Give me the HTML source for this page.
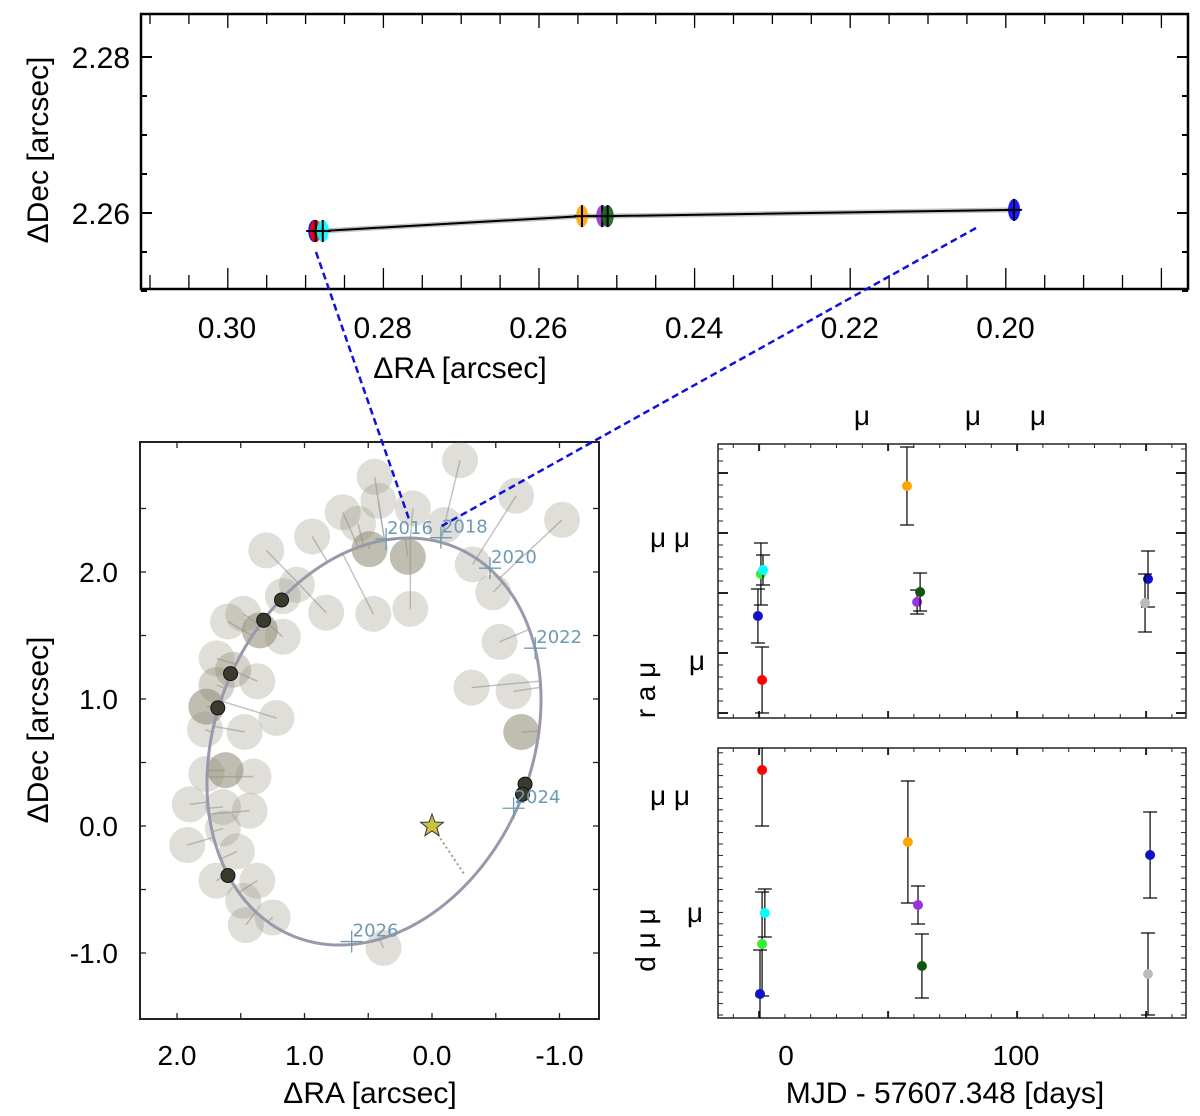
<!DOCTYPE html>
<html><head><meta charset="utf-8"><style>
html,body{margin:0;padding:0;background:#fff}
svg{display:block}
text{font-family:"Liberation Sans Narrow","Liberation Sans",sans-serif}
</style></head><body>
<svg id="fig" width="1200" height="1116" viewBox="0 0 1200 1116" xmlns="http://www.w3.org/2000/svg">
<g id="top"></g>
<g id="orb"></g>
<g id="rr"></g>
<g id="dr"></g>
<g id="ann"></g>
</svg>
<script>
// ---- top zoom panel data ----
const topColors=["blue","red","cyan","orange","#9933dd","#116611","blue"];
const topRA=[0.2888,0.2886,0.2877,0.2544,0.2518,0.2511,0.1989];
const topDec=[2.2577,2.2577,2.2577,2.2596,2.2596,2.2596,2.2604];
const topXTicks=["0.30","0.28","0.26","0.24","0.22","0.20"];
const topXVals=[0.30,0.28,0.26,0.24,0.22,0.20];
const topYTicks=["2.28","2.26"];
const topYVals=[2.28,2.26];
// ---- orbit panel data ----
const blobRA=[-0.22,0.45,-0.66,-1.02,0.42,0.70,0.58,0.15,-0.10,0.94,1.30,0.49,0.19,-0.32,1.06,0.83,0.46,0.17,-0.48,1.17,1.48,1.60,1.35,1.17,-0.53,1.69,1.56,1.37,-0.31,-0.64,1.69,1.77,1.22,1.47,1.78,-0.70,1.62,1.77,1.40,1.90,1.64,1.43,1.92,1.64,1.53,1.69,1.37,1.48,1.46,1.25,0.38];
const blobDec=[2.88,2.75,2.60,2.41,2.56,2.47,2.38,2.50,2.37,2.28,2.17,2.18,2.12,2.06,1.90,1.68,1.67,1.71,1.84,1.81,1.67,1.61,1.54,1.49,1.45,1.32,1.23,1.14,1.09,1.06,1.11,0.94,0.85,0.74,0.76,0.74,0.44,0.41,0.39,0.17,0.15,0.12,-0.15,-0.02,-0.20,-0.43,-0.43,-0.59,-0.78,-0.72,-0.96];
const blobAlpha=[.3,.3,.3,.3,.3,.3,.3,.3,.3,.3,.3,.6,.6,.3,.3,.3,.3,.3,.3,.3,.3,.3,.6,.3,.3,.3,.4,.3,.3,.3,.4,.6,.3,.3,.3,.6,.6,.3,.3,.3,.3,.3,.3,.3,.3,.3,.3,.3,.3,.3,.3];
const obsRA=[1.18,1.32,1.58,1.68,1.60,-0.73,-0.71];
const obsDec=[1.78,1.62,1.20,0.93,-0.39,0.33,0.25];
const yearLabels=["2016","2018","2020","2022","2024","2026"];
const yearRA=[0.36,-0.07,-0.455,-0.81,-0.64,0.63];
const yearDec=[2.26,2.27,2.03,1.40,0.14,-0.91];
const orbXTicks=["2.0","1.0","0.0","-1.0"];
const orbXVals=[2,1,0,-1];
const orbYTicks=["2.0","1.0","0.0","-1.0"];
const orbYVals=[2,1,0,-1];
// ---- residual panels data ----
const resColors=["red","#33ee33","cyan","#1111cc","orange","#9933dd","#115511","#1111cc","#bbbbbb"];
const raDays=[-10.4,-10.9,-10,-12.2,52.6,57,58.3,157.4,156.1];
const raVal=[3.8,14.4,14.8,10.2,23.2,11.6,12.6,13.9,11.5];
const raErr=[3.3,3.1,1.5,2.7,3.9,1.2,1.9,2.8,2.9];
const decDays=[-10.4,-10.4,-9.2,-11.3,53,57.4,59.1,158.3,157.4];
const decVal=[24.8,7.4,10.5,2.4,17.6,11.3,5.2,16.3,4.4];
const decErr=[5.6,5.2,2.4,4.4,6.1,1.9,3.2,4.3,4.1];
const dayTicks=["0","100"];
const dayVals=[0,100];

const NS="http://www.w3.org/2000/svg";
function mk(parent,tag,attrs,name){const e=document.createElementNS(NS,tag);for(const k in attrs)e.setAttribute(k,attrs[k]);


parent.appendChild(e);return e;}
function txt(parent,x,y,s,size,name,anchor,extra){const t=mk(parent,'text',Object.assign({x:x,y:y,'font-size':size,'text-anchor':anchor||'middle'},extra||{}),name);t.textContent=s;return t;}

// ===== TOP PANEL =====
const T=document.getElementById('top');
const tx=v=>227+(0.30-v)*7785, ty=v=>57+(2.28-v)*7800;
mk(T,'rect',{x:141,y:14,width:1047,height:275,fill:'none',stroke:'#000','stroke-width':2.5},'zoom-frame');
for(let i=0;i<27;i++){const x=150+i*38.9;const maj=Math.abs(((x-228)/155.7)-Math.round((x-228)/155.7))<0.05;
mk(T,'line',{x1:x,y1:14,x2:x,y2:maj?28:24,stroke:'#000','stroke-width':1.3},'top-tick');
mk(T,'line',{x1:x,y1:289,x2:x,y2:maj?268:275,stroke:'#000','stroke-width':1.3},'bottom-tick');}
for(let i=0;i<7;i++){const y=57+i*39;const maj=(i%4===0);
mk(T,'line',{x1:141,y1:y,x2:maj?152:147,y2:y,stroke:'#000','stroke-width':2},'left-tick');
mk(T,'line',{x1:1188,y1:y,x2:maj?1177:1182,y2:y,stroke:'#000','stroke-width':2},'right-tick');}
topXVals.forEach((v,i)=>txt(T,tx(v),338,topXTicks[i],30,'x-tick-label'));
topYVals.forEach((v,i)=>txt(T,130,ty(v)+11,topYTicks[i],30,'y-tick-label','end'));
txt(T,460,378,'ΔRA [arcsec]',30,'x-axis-title');
txt(T,0,0,'ΔDec [arcsec]',30,'y-axis-title','middle',{transform:'translate(48,150) rotate(-90)'});
let pts=topRA.map((v,i)=>tx(v)+','+ty(topDec[i])).join(' ');
mk(T,'polyline',{points:pts,fill:'none',stroke:'#999','stroke-width':5,opacity:.6},'orbit-band');
mk(T,'polyline',{points:pts,fill:'none',stroke:'#000','stroke-width':2},'orbit-segment');
topRA.forEach((v,i)=>{const x=tx(v),y=ty(topDec[i]);
mk(T,'ellipse',{cx:x,cy:y,rx:6,ry:11,fill:topColors[i],opacity:.9},'zoom-point');
mk(T,'line',{x1:x,y1:y-11,x2:x,y2:y+11,stroke:'#000','stroke-width':2},'dec-error');
mk(T,'line',{x1:x-8,y1:y,x2:x+8,y2:y,stroke:'#000','stroke-width':2},'ra-error');});

// ===== ORBIT PANEL =====
const O=document.getElementById('orb');
const ox=v=>432-v*127.5, oy=v=>826-v*127;
mk(O,'rect',{x:140,y:442,width:459,height:577,fill:'none',stroke:'#222','stroke-width':2},'orbit-frame');
[2,1.5,1,0.5,0,-0.5,-1].forEach(v=>{const x=ox(v);
mk(O,'line',{x1:x,y1:442,x2:x,y2:448,stroke:'#222','stroke-width':1.3},'top-tick');
mk(O,'line',{x1:x,y1:1019,x2:x,y2:1013,stroke:'#222','stroke-width':1.3},'bottom-tick');});
[2.5,2,1.5,1,0.5,0,-0.5,-1].forEach(v=>{const y=oy(v);
mk(O,'line',{x1:140,y1:y,x2:146,y2:y,stroke:'#222','stroke-width':1.3},'left-tick');
mk(O,'line',{x1:599,y1:y,x2:593,y2:y,stroke:'#222','stroke-width':1.3},'right-tick');});
orbXVals.forEach((v,i)=>txt(O,ox(v),1065,orbXTicks[i],28,'x-tick-label'));
orbYVals.forEach((v,i)=>txt(O,118,oy(v)+10,orbYTicks[i],28,'y-tick-label','end'));
txt(O,370,1103,'ΔRA [arcsec]',30,'x-axis-title');
txt(O,0,0,'ΔDec [arcsec]',30,'y-axis-title','middle',{transform:'translate(48,730) rotate(-90)'});
const orbit=[];for(let k=0;k<=200;k++){const t=k/200*2*Math.PI;orbit.push([0.455-1.31*Math.cos(t),0.665+0.33*Math.cos(t)-1.568*Math.sin(t)]);}
function nearest(ra,dec){let b=orbit[0],bd=1e9;orbit.forEach(p=>{const d=(p[0]-ra)**2+(p[1]-dec)**2;if(d<bd){bd=d;b=p;}});return b;}
blobRA.forEach((v,i)=>{const n=nearest(v,blobDec[i]);
mk(O,'line',{x1:ox(v),y1:oy(blobDec[i]),x2:ox(n[0]),y2:oy(n[1]),stroke:'#aaa','stroke-width':1.5,opacity:.7},'prediction-line');});
blobRA.forEach((v,i)=>mk(O,'circle',{cx:ox(v),cy:oy(blobDec[i]),r:18,fill:'rgb(150,145,125)',opacity:blobAlpha[i]},'predicted-position'));
mk(O,'polyline',{points:orbit.map(p=>ox(p[0])+','+oy(p[1])).join(' '),fill:'none',stroke:'#9a98ab','stroke-width':3},'best-fit-orbit');
obsRA.forEach((v,i)=>mk(O,'circle',{cx:ox(v),cy:oy(obsDec[i]),r:7,fill:'#3a3a2e',stroke:'#111','stroke-width':1},'observed-position'));
yearLabels.forEach((s,i)=>{const x=ox(yearRA[i]),y=oy(yearDec[i]);
mk(O,'line',{x1:x-11,y1:y,x2:x+11,y2:y,stroke:'#6d9ab3','stroke-width':1.3},'epoch-marker');
mk(O,'line',{x1:x,y1:y-11,x2:x,y2:y+11,stroke:'#6d9ab3','stroke-width':1.3},'epoch-marker');
txt(O,x+1,y-5,s,18,'epoch-label','start',{fill:'#6d9ab3',style:'font-family:"DejaVu Sans",sans-serif'});});
mk(O,'line',{x1:ox(0),y1:oy(0),x2:ox(-0.26),y2:oy(-0.39),stroke:'#999','stroke-width':2,'stroke-dasharray':'2 3'},'periastron-line');
(function(){const cx=ox(0),cy=oy(0),p=[];for(let k=0;k<10;k++){const r=k%2?5:12,a=-Math.PI/2+k*Math.PI/5;p.push((cx+r*Math.cos(a)).toFixed(1)+','+(cy+r*Math.sin(a)).toFixed(1));}
mk(O,'polygon',{points:p.join(' '),fill:'#c8c440',stroke:'#333','stroke-width':1},'host-star');})();

// ===== RESIDUAL PANELS =====
function panel(G,y0,h,days,vals,errs,cols,name,majY,tickSpacing){
const dx=v=>786+v*2.3, dy=v=>(y0+h)-v*10;
mk(G,'rect',{x:718,y:y0,width:468,height:h,fill:'none',stroke:'#222','stroke-width':1.5},name+'-frame');
for(let i=0;i<18;i++){const x=733.3+i*25.8;const maj=[1,6,11,16].includes(i);
mk(G,'line',{x1:x,y1:y0,x2:x,y2:y0+(maj?7:4),stroke:'#222','stroke-width':maj?2:1},'top-tick');
mk(G,'line',{x1:x,y1:y0+h,x2:x,y2:y0+h-(maj?7:4),stroke:'#222','stroke-width':maj?2:1},'bottom-tick');}
for(let y=majY-60*5;y<y0+h;y+=tickSpacing){if(y<=y0)continue;const maj=Math.abs(((y-majY)/(tickSpacing*5))-Math.round((y-majY)/(tickSpacing*5)))<0.05;
mk(G,'line',{x1:718,y1:y,x2:718+(maj?10:5),y2:y,stroke:'#222','stroke-width':maj?2:1},'left-tick');
mk(G,'line',{x1:1186,y1:y,x2:1186-(maj?10:5),y2:y,stroke:'#222','stroke-width':maj?2:1},'right-tick');}
days.forEach((d,i)=>{const x=dx(d),y=dy(vals[i]);const top=Math.max(y0,dy(vals[i]+errs[i])),bot=Math.min(y0+h,dy(vals[i]-errs[i]));
mk(G,'line',{x1:x,y1:top,x2:x,y2:bot,stroke:'#000','stroke-width':1.2},'error-bar');
if(top>y0)mk(G,'line',{x1:x-7,y1:top,x2:x+7,y2:top,stroke:'#000','stroke-width':1.2},'error-cap');
if(bot<y0+h)mk(G,'line',{x1:x-7,y1:bot,x2:x+7,y2:bot,stroke:'#000','stroke-width':1.2},'error-cap');
mk(G,'circle',{cx:x,cy:y,r:5,fill:cols[i]},'residual-point');});
}
const R=document.getElementById('rr'),D=document.getElementById('dr');
panel(R,444,274,raDays,raVal,raErr,resColors,'ra-panel',473,12);
panel(D,748,270,decDays,decVal,decErr,resColors,'dec-panel',802,11.4);
dayVals.forEach((v,i)=>txt(D,786+v*2.3,1065,dayTicks[i],28,'x-tick-label'));
txt(D,945,1103,'MJD - 57607.348 [days]',30,'x-axis-title');
const A=document.getElementById('ann');
[[862,425],[973,425],[1038,425]].forEach(p=>txt(A,p[0],p[1],'μ',28,'top-mu-label'));
txt(A,670,547,'μ  μ',28,'ra-unit-label');txt(A,697,670,'μ',28,'ra-unit-label');
txt(A,0,0,'r a μ',28,'ra-axis-title','middle',{transform:'translate(655,690) rotate(-90)'});
txt(A,670,805,'μ  μ',28,'dec-unit-label');txt(A,695,922,'μ',28,'dec-unit-label');
txt(A,0,0,'d μ μ',28,'dec-axis-title','middle',{transform:'translate(655,940) rotate(-90)'});
mk(A,'line',{x1:316,y1:252,x2:410,y2:522,stroke:'#1111dd','stroke-width':2.5,'stroke-dasharray':'7 4'},'zoom-connector-left');
mk(A,'line',{x1:976,y1:228,x2:440,y2:527,stroke:'#1111dd','stroke-width':2.5,'stroke-dasharray':'7 4'},'zoom-connector-right');
</script>
</body></html>
